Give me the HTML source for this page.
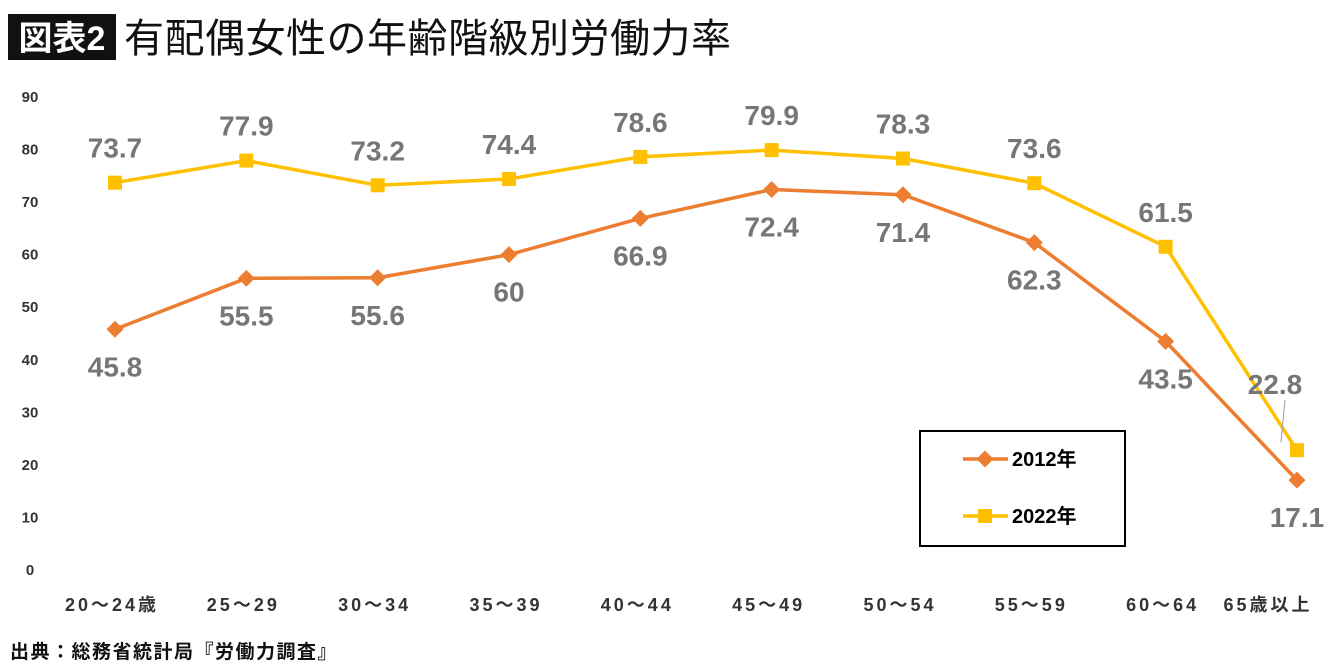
<!DOCTYPE html>
<html><head><meta charset="utf-8">
<style>
html,body{margin:0;padding:0;background:#fff;}
body{width:1340px;height:667px;overflow:hidden;font-family:"Liberation Sans","Noto Sans CJK JP",sans-serif;}
</style></head>
<body>
<svg id="chart" width="1340" height="667" xmlns="http://www.w3.org/2000/svg" font-family="'Liberation Sans','Noto Sans CJK JP',sans-serif">
  <rect x="8" y="14" width="108" height="46" fill="#111"/>
  <text x="62" y="50" fill="#fff" font-size="34" font-weight="bold" text-anchor="middle">図表2</text>
  <text x="124" y="52" fill="#111" font-size="40" font-weight="normal" letter-spacing="0.5">有配偶女性の年齢階級別労働力率</text>
  <g id="yaxis"></g>
  <g id="xaxis"></g>
  <g id="series"></g>
  <g id="labels"></g>
  <g>
    <rect x="920" y="431" width="205" height="115" fill="#fff" stroke="#000" stroke-width="2"/>
    <g>
      <line x1="963" y1="459" x2="1008" y2="459" stroke="#ED7D31" stroke-width="3.5"/>
      <rect x="979" y="453" width="12" height="12" fill="#ED7D31" transform="rotate(45 985 459)"/>
      <text x="1012" y="466" font-size="20" font-weight="bold" fill="#000">2012年</text>
    </g>
    <g>
      <line x1="963" y1="516" x2="1008" y2="516" stroke="#FFC000" stroke-width="3.5"/>
      <rect x="978" y="509" width="14" height="14" fill="#FFC000"/>
      <text x="1012" y="523" font-size="20" font-weight="bold" fill="#000">2022年</text>
    </g>
  </g>
  <text x="10" y="658" font-size="19" font-weight="bold" fill="#111" letter-spacing="1.5">出典：総務省統計局『労働力調査』</text>
</svg>
<script>
const categories=["20～24歳","25～29","30～34","35～39","40～44","45～49","50～54","55～59","60～64","65歳以上"];
const values2012=[45.8,55.5,55.6,60,66.9,72.4,71.4,62.3,43.5,17.1];
const values2022=[73.7,77.9,73.2,74.4,78.6,79.9,78.3,73.6,61.5,22.8];
const yTicks=[0,10,20,30,40,50,60,70,80,90];
const pos2012=[-1,-1,-1,-1,-1,-1,-1,-1,-1,-1];
const pos2022=[1,1,1,1,1,1,1,1,1,1];

const NS="http://www.w3.org/2000/svg";
const y=v=>570-v*(473/90);
const x=i=>115+i*131.33;
function mk(tag,attrs,parent){const e=document.createElementNS(NS,tag);for(const k in attrs)e.setAttribute(k,attrs[k]);parent.appendChild(e);return e;}
const ya=document.getElementById('yaxis'),xa=document.getElementById('xaxis'),se=document.getElementById('series'),lb=document.getElementById('labels');
yTicks.forEach(t=>{const e=mk('text',{x:30,y:y(t)+5,'font-size':15,'font-weight':'bold',fill:'#333','text-anchor':'middle'},ya);e.textContent=t;

});
categories.forEach((c,i)=>{const cx=(i===categories.length-1)?x(i)-29:x(i)-3;
const e=mk('text',{x:cx,y:611,'font-size':18,'font-weight':'bold',fill:'#333','text-anchor':'middle','letter-spacing':'3'},xa);e.textContent=c;

});
function line(vals,color,name){
  const pts=vals.map((v,i)=>x(i)+','+y(v)).join(' ');
  const p=mk('polyline',{points:pts,fill:'none',stroke:color,'stroke-width':3.5,'stroke-linejoin':'round'},se);
  
  
}
line(values2022,'#FFC000','series-2022');
line(values2012,'#ED7D31','series-2012');
values2012.forEach((v,i)=>{const r=mk('rect',{x:x(i)-6,y:y(v)-6,width:12,height:12,fill:'#ED7D31',transform:`rotate(45 ${x(i)} ${y(v)})`},se);

});
values2022.forEach((v,i)=>{const r=mk('rect',{x:x(i)-7,y:y(v)-7,width:14,height:14,fill:'#FFC000'},se);

});
function labels(vals,pos,name,isTop){
  vals.forEach((v,i)=>{
    let ly=pos[i]>0? y(v)-25 : y(v)+47;
    let lx=x(i);
    if(isTop&&i===vals.length-1){ly=y(v)-56;lx=x(i)-22;
      const l=mk('line',{x1:x(i)-12,y1:y(v)-50,x2:x(i)-16,y2:y(v)-8,stroke:'#999','stroke-width':1},lb);
      
      }
    const t=mk('text',{x:lx,y:ly,'font-size':28,'font-weight':'bold',fill:'#767676','text-anchor':'middle'},lb);
    t.textContent=v;
    
    
  });
}
labels(values2012,pos2012,'series-2012',false);
labels(values2022,pos2022,'series-2022',true);
</script>
</body></html>
